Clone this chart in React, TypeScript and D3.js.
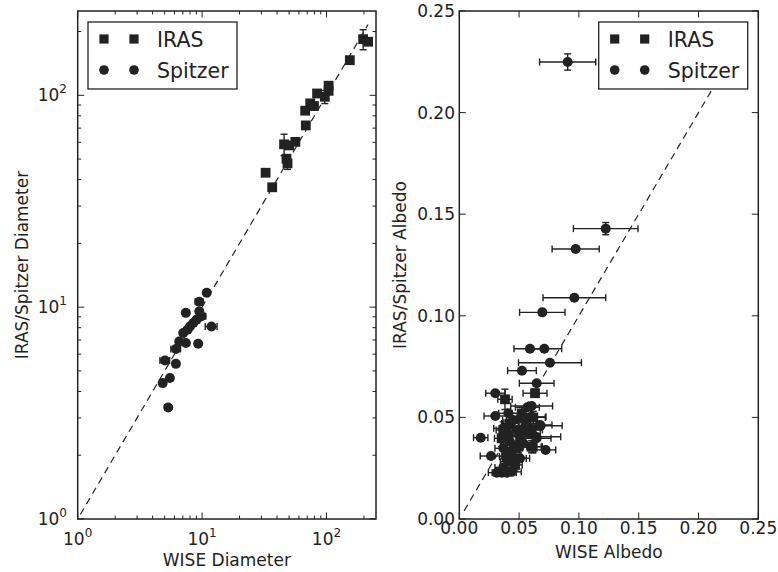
import React from "react";
import * as d3 from "d3";

// ---------- DATA ----------
// Left panel: [WISE diameter, IRAS/Spitzer diameter, xErr, yErr]
const irasDiameter: [number, number, number, number][] = [
  [32.4, 43.1, 0, 0],
  [36.6, 36.8, 0, 0],
  [45.6, 58.7, 0, 6.8],
  [50.1, 58.0, 0, 0],
  [56.2, 60.3, 0, 0],
  [47.7, 50.2, 0, 0],
  [48.6, 47.7, 0, 3],
  [68.2, 72.1, 0, 0],
  [67.4, 84.6, 0, 0],
  [74.0, 91.6, 0, 0],
  [79.3, 89.0, 0, 0],
  [84.0, 102, 0, 0],
  [96.9, 98.4, 0, 7],
  [104, 111, 0, 0],
  [104, 105, 0, 0],
  [154, 146.5, 0, 0],
  [197, 184, 0, 20],
  [216, 179, 0, 0],
];

const spitzerDiameter: [number, number, number, number][] = [
  [10.9, 11.7, 0, 0],
  [9.5, 10.6, 0.7, 0],
  [7.4, 9.4, 0, 0],
  [9.5, 9.55, 0, 0],
  [9.9, 9.05, 0.8, 0],
  [9.03, 8.73, 0, 0],
  [11.9, 8.1, 1.3, 0],
  [8.49, 8.42, 0, 0],
  [7.98, 8.1, 0, 0],
  [7.65, 7.83, 0, 0],
  [7.05, 7.55, 0, 0],
  [6.55, 6.89, 0, 0],
  [7.41, 6.77, 0, 0],
  [9.3, 6.72, 0, 0],
  [6.16, 6.35, 0.55, 0],
  [5.03, 5.6, 0.45, 0],
  [6.16, 5.4, 0, 0],
  [5.51, 4.63, 0, 0],
  [4.82, 4.38, 0, 0],
  [5.34, 3.36, 0.3, 0],
];

// Right panel: [WISE albedo, IRAS/Spitzer albedo, xErr, yErr]
const irasAlbedo: [number, number, number, number][] = [
  [0.0633, 0.0619, 0.01, 0.002],
  [0.0382, 0.0589, 0.006, 0.005],
  [0.0619, 0.05, 0.01, 0.003],
  [0.0614, 0.0356, 0.008, 0.003],
  [0.0368, 0.0438, 0.006, 0.004],
  [0.041, 0.0413, 0.007, 0.004],
  [0.0605, 0.0356, 0.008, 0.003],
  [0.0494, 0.0356, 0.007, 0.003],
  [0.0438, 0.0331, 0.007, 0.003],
  [0.0396, 0.0307, 0.006, 0.003],
  [0.0605, 0.0438, 0.009, 0.003],
  [0.0508, 0.0413, 0.008, 0.003],
  [0.0424, 0.047, 0.007, 0.004],
  [0.0563, 0.0487, 0.008, 0.003],
  [0.0354, 0.0397, 0.006, 0.004],
  [0.0466, 0.0266, 0.006, 0.003],
  [0.0522, 0.052, 0.008, 0.003],
];

const spitzerAlbedo: [number, number, number, number][] = [
  [0.0906, 0.2249, 0.0235, 0.004],
  [0.1224, 0.1429, 0.027, 0.003],
  [0.0973, 0.1329, 0.0197, 0.0015],
  [0.0962, 0.1089, 0.0262, 0.001],
  [0.0694, 0.1017, 0.019, 0.001],
  [0.0591, 0.0838, 0.0134, 0.001],
  [0.0711, 0.0838, 0.0145, 0.001],
  [0.0758, 0.0769, 0.0263, 0.001],
  [0.0524, 0.073, 0.012, 0.001],
  [0.0647, 0.0668, 0.0145, 0.001],
  [0.0301, 0.0619, 0.008, 0.001],
  [0.0569, 0.055, 0.01, 0.001],
  [0.0605, 0.0556, 0.0175, 0.001],
  [0.0301, 0.0507, 0.0094, 0.001],
  [0.068, 0.0459, 0.018, 0.001],
  [0.0179, 0.04, 0.006, 0.001],
  [0.0639, 0.0405, 0.0209, 0.001],
  [0.0722, 0.034, 0.0084, 0.001],
  [0.0265, 0.031, 0.009, 0.001],
  [0.0508, 0.0299, 0.008, 0.001],
  [0.0313, 0.0228, 0.007, 0.001],
  [0.0355, 0.0228, 0.008, 0.001],
  [0.0396, 0.0228, 0.008, 0.001],
  [0.0438, 0.0232, 0.008, 0.001],
  [0.041, 0.052, 0.008, 0.001],
  [0.0508, 0.0495, 0.009, 0.001],
  [0.0605, 0.0503, 0.012, 0.001],
  [0.0675, 0.0463, 0.01, 0.001],
  [0.0368, 0.0446, 0.008, 0.001],
  [0.048, 0.0438, 0.009, 0.001],
  [0.0577, 0.0421, 0.01, 0.001],
  [0.0647, 0.0397, 0.012, 0.001],
  [0.0424, 0.038, 0.008, 0.001],
  [0.0536, 0.0372, 0.009, 0.001],
  [0.0368, 0.0348, 0.007, 0.001],
  [0.048, 0.0298, 0.008, 0.001],
  [0.0424, 0.0282, 0.008, 0.001],
  [0.0368, 0.0254, 0.007, 0.001],
  [0.0452, 0.0487, 0.009, 0.001],
  [0.0549, 0.0454, 0.01, 0.001],
];

const diameterLine = [1.05, 216];
const albedoLine = [0.004, 0.243];
const albedoTicks = [0, 0.05, 0.1, 0.15, 0.2, 0.25];
const logMajor = [1, 10, 100];
const legendLabels = ["IRAS", "Spitzer"];

// ---------- LAYOUT ----------
const W = 778;
const H = 572;
const TOP = 11;
const BOTTOM = 519;
const L = { x0: 77.7, x1: 376 };
const R = { x0: 459.3, x1: 758.3 };
const INK = "#222";
const FONT = "DejaVu Sans, sans-serif";
const TICK_FS = 17;

type Pt = [number, number, number, number];

function Marks({ data, xs, ys, shape }: { data: Pt[]; xs: any; ys: any; shape: "square" | "circle" }) {
  const cap = 3.5;
  return (
    <g>
      {data.map((d, i) => {
        const cx = xs(d[0]);
        const cy = ys(d[1]);
        const els: any[] = [];
        if (d[2] > 0) {
          const xa = xs(d[0] - d[2]);
          const xb = xs(d[0] + d[2]);
          els.push(<line key="xl" x1={xa} x2={xb} y1={cy} y2={cy} stroke={INK} strokeWidth={1.4} />);
          els.push(<line key="xc1" x1={xa} x2={xa} y1={cy - cap} y2={cy + cap} stroke={INK} strokeWidth={1.4} />);
          els.push(<line key="xc2" x1={xb} x2={xb} y1={cy - cap} y2={cy + cap} stroke={INK} strokeWidth={1.4} />);
        }
        if (d[3] > 0) {
          const ya = ys(d[1] - d[3]);
          const yb = ys(d[1] + d[3]);
          els.push(<line key="yl" x1={cx} x2={cx} y1={ya} y2={yb} stroke={INK} strokeWidth={1.4} />);
          els.push(<line key="yc1" x1={cx - cap} x2={cx + cap} y1={ya} y2={ya} stroke={INK} strokeWidth={1.4} />);
          els.push(<line key="yc2" x1={cx - cap} x2={cx + cap} y1={yb} y2={yb} stroke={INK} strokeWidth={1.4} />);
        }
        return <g key={i}>{els}</g>;
      })}
      {data.map((d, i) => {
        const cx = xs(d[0]);
        const cy = ys(d[1]);
        return shape === "square" ? (
          <rect key={"m" + i} x={cx - 4.9} y={cy - 4.9} width={9.8} height={9.8} fill={INK} />
        ) : (
          <circle key={"m" + i} cx={cx} cy={cy} r={5} fill={INK} />
        );
      })}
    </g>
  );
}

function Legend({ x, y }: { x: number; y: number }) {
  return (
    <g>
      <rect x={x} y={y} width={149} height={67} fill="white" stroke={INK} strokeWidth={1.3} />
      {legendLabels.map((lab, i) => {
        const cy = y + 17 + i * 31;
        return (
          <g key={lab}>
            {[x + 16, x + 46].map((mx, j) =>
              i === 0 ? (
                <rect key={j} x={mx - 4.6} y={cy - 4.6} width={9.2} height={9.2} fill={INK} />
              ) : (
                <circle key={j} cx={mx} cy={cy} r={4.8} fill={INK} />
              )
            )}
            <text x={x + 69} y={cy + 7.5} fontSize={20.5} fontFamily={FONT} fill={INK}>
              {lab}
            </text>
          </g>
        );
      })}
    </g>
  );
}

export default function App() {
  // Left panel scales (log)
  const lx = d3.scaleLog().domain([1, 250]).range([L.x0, L.x1]);
  const ly = d3.scaleLog().domain([1, 250]).range([BOTTOM, TOP]);
  // Right panel scales (linear)
  const rx = d3.scaleLinear().domain([0, 0.25]).range([R.x0, R.x1]);
  const ry = d3.scaleLinear().domain([0, 0.25]).range([BOTTOM, TOP]);

  const minor: number[] = [];
  for (const dec of logMajor) {
    for (let k = 2; k <= 9; k++) {
      const v = dec * k;
      if (v <= 250) minor.push(v);
    }
  }
  const logExp = (v: number) => Math.round(Math.log10(v));

  const MAJ = 6.5;
  const MIN = 3.5;

  const line = d3.line<[number, number]>();

  return (
    <div style={{ position: "absolute", left: 0, top: 0 }}>
      <svg width={W} height={H} style={{ display: "block", background: "white" }}>
        {/* ---------- LEFT PANEL ---------- */}
        <g>
          <path
            d={line(diameterLine.map((v) => [lx(v), ly(v)]) as [number, number][]) || ""}
            fill="none"
            stroke={INK}
            strokeWidth={1.2}
            strokeDasharray="7,5"
          />
          <Marks data={irasDiameter} xs={lx} ys={ly} shape="square" />
          <Marks data={spitzerDiameter} xs={lx} ys={ly} shape="circle" />
          {/* frame */}
          <rect x={L.x0} y={TOP} width={L.x1 - L.x0} height={BOTTOM - TOP} fill="none" stroke={INK} strokeWidth={1.5} />
          {/* ticks */}
          {logMajor.map((v) => (
            <g key={"lmaj" + v}>
              <line x1={lx(v)} x2={lx(v)} y1={BOTTOM} y2={BOTTOM - MAJ} stroke={INK} strokeWidth={1} />
              <line x1={lx(v)} x2={lx(v)} y1={TOP} y2={TOP + MAJ} stroke={INK} strokeWidth={1} />
              <line x1={L.x0} x2={L.x0 + MAJ} y1={ly(v)} y2={ly(v)} stroke={INK} strokeWidth={1} />
              <line x1={L.x1} x2={L.x1 - MAJ} y1={ly(v)} y2={ly(v)} stroke={INK} strokeWidth={1} />
            </g>
          ))}
          {minor.map((v) => (
            <g key={"lmin" + v}>
              <line x1={lx(v)} x2={lx(v)} y1={BOTTOM} y2={BOTTOM - MIN} stroke={INK} strokeWidth={1} />
              <line x1={lx(v)} x2={lx(v)} y1={TOP} y2={TOP + MIN} stroke={INK} strokeWidth={1} />
              <line x1={L.x0} x2={L.x0 + MIN} y1={ly(v)} y2={ly(v)} stroke={INK} strokeWidth={1} />
              <line x1={L.x1} x2={L.x1 - MIN} y1={ly(v)} y2={ly(v)} stroke={INK} strokeWidth={1} />
            </g>
          ))}
          {/* tick labels */}
          {logMajor.map((v) => (
            <text key={"lxl" + v} x={lx(v)} y={545} textAnchor="middle" fontSize={TICK_FS} fontFamily={FONT} fill={INK}>
              10
              <tspan fontSize={12} dy={-8}>
                {logExp(v)}
              </tspan>
            </text>
          ))}
          {logMajor.map((v) => (
            <text key={"lyl" + v} x={67} y={ly(v) + 6} textAnchor="end" fontSize={TICK_FS} fontFamily={FONT} fill={INK}>
              10
              <tspan fontSize={12} dy={-8}>
                {logExp(v)}
              </tspan>
            </text>
          ))}
          <text x={(L.x0 + L.x1) / 2} y={566} textAnchor="middle" fontSize={17} fontFamily={FONT} fill={INK}>
            WISE Diameter
          </text>
          <text
            transform={`translate(28, ${(TOP + BOTTOM) / 2}) rotate(-90)`}
            textAnchor="middle"
            fontSize={17}
            fontFamily={FONT}
            fill={INK}
          >
            IRAS/Spitzer Diameter
          </text>
          <Legend x={88} y={22} />
        </g>

        {/* ---------- RIGHT PANEL ---------- */}
        <g>
          <path
            d={line(albedoLine.map((v) => [rx(v), ry(v)]) as [number, number][]) || ""}
            fill="none"
            stroke={INK}
            strokeWidth={1.2}
            strokeDasharray="7,5"
          />
          <Marks data={irasAlbedo} xs={rx} ys={ry} shape="square" />
          <Marks data={spitzerAlbedo} xs={rx} ys={ry} shape="circle" />
          <rect x={R.x0} y={TOP} width={R.x1 - R.x0} height={BOTTOM - TOP} fill="none" stroke={INK} strokeWidth={1.5} />
          {albedoTicks.map((v) => (
            <g key={"rt" + v}>
              <line x1={rx(v)} x2={rx(v)} y1={BOTTOM} y2={BOTTOM - MAJ} stroke={INK} strokeWidth={1} />
              <line x1={rx(v)} x2={rx(v)} y1={TOP} y2={TOP + MAJ} stroke={INK} strokeWidth={1} />
              <line x1={R.x0} x2={R.x0 + MAJ} y1={ry(v)} y2={ry(v)} stroke={INK} strokeWidth={1} />
              <line x1={R.x1} x2={R.x1 - MAJ} y1={ry(v)} y2={ry(v)} stroke={INK} strokeWidth={1} />
              <text x={rx(v)} y={534} textAnchor="middle" fontSize={TICK_FS} fontFamily={FONT} fill={INK}>
                {d3.format(".2f")(v)}
              </text>
              <text x={455} y={ry(v) + 6} textAnchor="end" fontSize={TICK_FS} fontFamily={FONT} fill={INK}>
                {d3.format(".2f")(v)}
              </text>
            </g>
          ))}
          <text x={(R.x0 + R.x1) / 2} y={558} textAnchor="middle" fontSize={17} fontFamily={FONT} fill={INK}>
            WISE Albedo
          </text>
          <text
            transform={`translate(406, ${(TOP + BOTTOM) / 2}) rotate(-90)`}
            textAnchor="middle"
            fontSize={17}
            fontFamily={FONT}
            fill={INK}
          >
            IRAS/Spitzer Albedo
          </text>
          <Legend x={598.7} y={22} />
        </g>
      </svg>
    </div>
  );
}
